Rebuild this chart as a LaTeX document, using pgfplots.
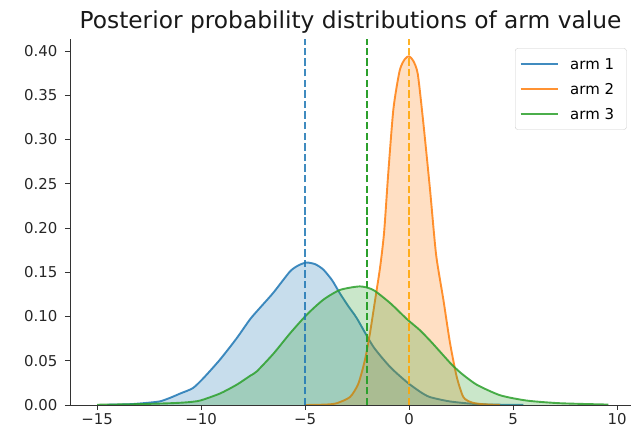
\documentclass[border=0pt]{standalone}
\usepackage{fontspec}
\setmainfont{DejaVu Sans}
\usepackage{pgfplots}
\usepackage{pgfplotstable}
\pgfplotsset{compat=1.18}
\definecolor{armone}{HTML}{1F77B4}
\definecolor{armtwo}{HTML}{FF7F0E}
\definecolor{armthree}{HTML}{2CA02C}
\definecolor{mplorange}{HTML}{FFA500}

% KDE curves
\pgfplotstableread{
x y
-14.5 0.0003
-13.5 0.0008
-12.8 0.002
-12.0 0.004
-11.5 0.008
-11.0 0.013
-10.4 0.019
-9.9 0.030
-9.1 0.051
-8.3 0.075
-7.64 0.097
-7.16 0.110
-6.52 0.127
-5.72 0.151
-5.3 0.158
-4.92 0.161
-4.5 0.159
-4.12 0.153
-3.7 0.141
-3.32 0.126
-2.9 0.111
-2.51 0.098
-1.72 0.066
-0.91 0.043
-0.11 0.026
0.53 0.015
1.0 0.009
1.97 0.004
3.25 0.001
4.5 0.0003
5.5 0.0001
}\armA

\pgfplotstableread{
x y
-5.0 0.0
-4.0 0.0005
-3.48 0.002
-2.84 0.009
-2.44 0.024
-2.12 0.051
-1.88 0.081
-1.63 0.119
-1.39 0.156
-1.2 0.195
-1.0 0.262
-0.75 0.335
-0.45 0.378
-0.2 0.391
0.0 0.394
0.2 0.389
0.42 0.374
0.69 0.318
1.01 0.243
1.3 0.170
1.65 0.119
1.97 0.070
2.29 0.032
2.61 0.009
3.0 0.003
3.5 0.001
4.38 0.0
}\armB

\pgfplotstableread{
x y
-15.0 0.0003
-13.0 0.001
-11.5 0.002
-10.7 0.003
-10.05 0.005
-9.09 0.013
-8.28 0.023
-7.64 0.033
-7.32 0.038
-6.52 0.058
-5.72 0.081
-4.92 0.102
-4.12 0.119
-3.32 0.130
-2.36 0.134
-1.72 0.130
-0.9 0.115
-0.1 0.097
0.5 0.085
1.0 0.073
1.5 0.060
2.0 0.047
2.5 0.036
3.25 0.023
4.38 0.011
5.66 0.005
7.26 0.002
9.58 0.0005
}\armC

\begin{document}
\begin{tikzpicture}
\begin{axis}[
  scale only axis, width=561bp, height=365.5bp,
  xmin=-16.3, xmax=10.67, ymin=0, ymax=0.413,
  axis lines=left,
  axis line style={-, black!80, line width=0.8bp},
  tick align=outside, major tick length=5bp,
  tick style={black!80, line width=0.8bp},
  xtick={-15,-10,-5,0,5,10},
  xticklabels={−15,−10,−5,0,5,10},
  ytick={0,0.05,0.10,0.15,0.20,0.25,0.30,0.35,0.40},
  yticklabels={0.00,0.05,0.10,0.15,0.20,0.25,0.30,0.35,0.40},
  ticklabel style={font=\fontsize{15}{18}\selectfont, text=black!85},
  yticklabel style={xshift=-4bp},
  title={Posterior probability distributions of arm value},
  title style={at={(0.5,1)}, anchor=base, yshift=5bp, inner sep=0pt,
    font=\fontsize{23.4}{28}\selectfont, text=black!90},
  legend cell align=left,
  legend style={at={(0.9923,0.976)}, anchor=north east,
    font=\fontsize{15}{18}\selectfont, draw=black!20, rounded corners=2.5bp,
    fill=white, fill opacity=0.8, text opacity=1,
    inner xsep=4.4bp, inner ysep=10bp, row sep=14bp,
    nodes={inner sep=0pt, text height=11bp, text depth=0bp},
    /tikz/every odd column/.append style={column sep=11.7bp}},
  legend image code/.code={\draw[#1] (0bp,0bp) -- (37bp,0bp);},
  every axis plot/.append style={smooth, tension=0.4},
]
\coordinate (O) at (rel axis cs:0,0);

\addplot[draw=none, fill=armone, fill opacity=0.25, forget plot] table {\armA} \closedcycle;
\addplot[armone, line width=1.9bp, opacity=0.85] table {\armA};
\addlegendentry{arm 1\kern8bp}

\addplot[draw=none, fill=armtwo, fill opacity=0.25, forget plot] table {\armB} \closedcycle;
\addplot[armtwo, line width=1.9bp, opacity=0.85] table {\armB};
\addlegendentry{arm 2\kern8bp}

\addplot[draw=none, fill=armthree, fill opacity=0.25, forget plot] table {\armC} \closedcycle;
\addplot[armthree, line width=1.9bp, opacity=0.85] table {\armC};
\addlegendentry{arm 3\kern8bp}

% posterior means
\addplot[armone, opacity=0.85, line width=2bp, dash pattern=on 7.4bp off 3.2bp, forget plot]
  coordinates {(-5,0) (-5,0.413)};
\addplot[armthree, line width=2bp, dash pattern=on 7.4bp off 3.2bp, forget plot]
  coordinates {(-2.02,0) (-2.02,0.413)};
\addplot[mplorange, opacity=0.85, line width=2bp, dash pattern=on 7.4bp off 3.2bp, forget plot]
  coordinates {(0,0) (0,0.413)};
\end{axis}
\pgfresetboundingbox
\path[use as bounding box] ([shift={(-70bp,-27bp)}]O) rectangle ++(631bp,432bp);
\end{tikzpicture}
\end{document}
